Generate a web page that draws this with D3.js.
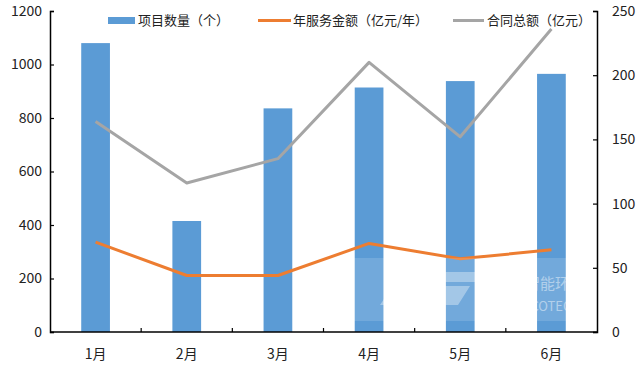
<!DOCTYPE html>
<html><head><meta charset="utf-8">
<script src="https://cdn.jsdelivr.net/npm/d3@7"></script>
<style>html,body{margin:0;padding:0;background:#fff;}svg{display:block;}</style>
</head><body>
<svg id="c" width="640" height="366"></svg>
<script>
const categories = ["1月","2月","3月","4月","5月","6月"];
const projectCount = [1080, 415, 836, 914, 938, 965];
const annualService = [70, 44, 44, 69, 57, 64];
const contractTotal = [164, 116, 135, 210, 152, 236];
const leftTicks = [0,200,400,600,800,1000,1200];
const rightTicks = [0,50,100,150,200,250];
const seriesNames = ["项目数量（个）","年服务金额（亿元/年）","合同总额（亿元）"];

const font = "'Noto Sans CJK SC','Noto Sans',sans-serif";
const svg = d3.select("#c");
const L = 50, R = 597, T = 11, B = 332;

const x = d3.scaleBand().domain(categories).range([L, R]).paddingInner(0).paddingOuter(0);
const yL = d3.scaleLinear().domain([0,1200]).range([B, T]);
const yR = d3.scaleLinear().domain([0,250]).range([B, T]);
const bw = x.bandwidth()*0.315;

// bars
svg.append("g").selectAll("rect").data(categories).join("rect")
  .attr("x", (d)=>x(d)+x.bandwidth()/2-bw/2)
  .attr("width", bw)
  .attr("y", (d,i)=>yL(projectCount[i]))
  .attr("height", (d,i)=>B-yL(projectCount[i]))
  .attr("fill", "#5B9BD5");

const line = d3.line().x((d,i)=>x(categories[i])+x.bandwidth()/2).y(d=>yR(d));
svg.append("path").datum(contractTotal).attr("d", line)
  .attr("fill","none").attr("stroke","#A5A5A5").attr("stroke-width",3).attr("stroke-linejoin","round");
svg.append("path").datum(annualService).attr("d", line)
  .attr("fill","none").attr("stroke","#ED7D31").attr("stroke-width",3).attr("stroke-linejoin","round");

// watermark
const wm = svg.append("g");
wm.append("rect").attr("x",340).attr("y",258).attr("width",300).attr("height",63)
  .attr("fill","#fff").attr("opacity",0.14);
wm.append("path").attr("d","M380,305 L402,272 L488,272 L482,282 L412,282 L398,300 L420,300 L426,292 L414,292 L419,286 L470,286 L458,305 Z")
  .attr("fill","#fff").attr("opacity",0.35);
wm.append("text").attr("x",495).attr("y",289).text("洁普智能环保")
  .attr("font-family",font).attr("font-size",15).attr("fill","#fff").attr("opacity",0.45);
wm.append("text").attr("x",495).attr("y",311).text("GEP ECOTECH")
  .attr("font-family",font).attr("font-size",13).attr("fill","#fff").attr("opacity",0.45);

// axes
const axL = svg.append("g").attr("transform",`translate(${L},0)`)
  .call(d3.axisRight(yL).tickValues(leftTicks).tickSize(4).tickFormat(d3.format("d")));
const axR = svg.append("g").attr("transform",`translate(${R},0)`)
  .call(d3.axisLeft(yR).tickValues(rightTicks).tickSize(4).tickFormat(d3.format("d")));
[axL, axR].forEach(a=>{
  a.select(".domain").attr("stroke","#000").attr("stroke-width",1.5);
  a.selectAll(".tick line").attr("stroke","#000").attr("stroke-width",1.2);
  a.selectAll(".tick text").attr("font-family",font).attr("font-size",14).attr("fill","#222");
});
axL.selectAll(".tick text").attr("text-anchor","end").attr("x",-8);
axR.selectAll(".tick text").attr("text-anchor","start").attr("x",15);

// x axis
const bounds = categories.slice(1).map(c=>x(c));
const xg = svg.append("g");
xg.append("line").attr("x1",L).attr("x2",R).attr("y1",B).attr("y2",B).attr("stroke","#000").attr("stroke-width",1.5);
xg.selectAll("line.t").data(bounds).join("line").attr("class","t")
  .attr("x1",d=>d).attr("x2",d=>d).attr("y1",B).attr("y2",B-4).attr("stroke","#000").attr("stroke-width",1.2);
xg.selectAll("text").data(categories).join("text")
  .attr("x",d=>x(d)+x.bandwidth()/2).attr("y",359).attr("text-anchor","middle")
  .attr("font-family",font).attr("font-size",14).attr("fill","#222").text(d=>d);

// legend
const lg = svg.append("g").attr("font-family",font).attr("font-size",13).attr("fill","#222");
lg.append("rect").attr("x",108).attr("y",17).attr("width",27).attr("height",7).attr("fill","#5B9BD5");
lg.append("text").attr("x",138).attr("y",25).text(seriesNames[0]);
lg.append("line").attr("x1",258).attr("x2",291).attr("y1",20.5).attr("y2",20.5).attr("stroke","#ED7D31").attr("stroke-width",3);
lg.append("text").attr("x",293).attr("y",25).text(seriesNames[1]);
lg.append("line").attr("x1",453).attr("x2",484).attr("y1",20.5).attr("y2",20.5).attr("stroke","#A5A5A5").attr("stroke-width",3);
lg.append("text").attr("x",487).attr("y",25).text(seriesNames[2]);
</script>
</body></html>
